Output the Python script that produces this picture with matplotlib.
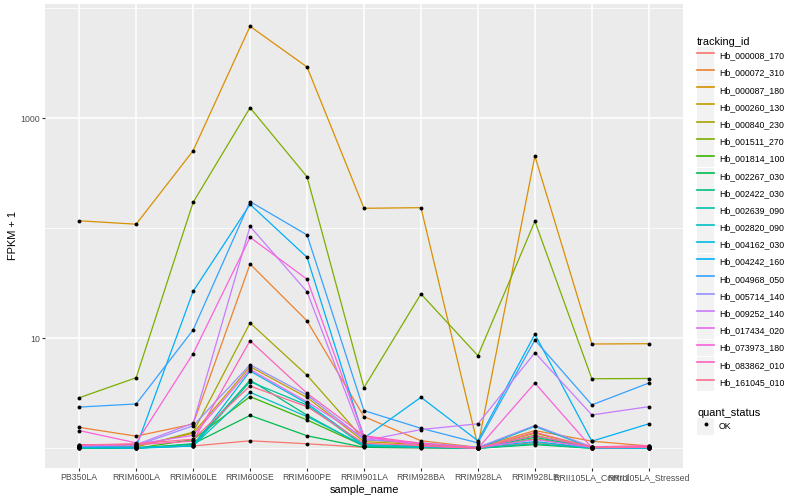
import matplotlib
matplotlib.use('Agg')
import matplotlib.pyplot as plt
from matplotlib.lines import Line2D
from matplotlib.patches import Rectangle
from matplotlib.ticker import FixedLocator, NullFormatter

plt.rcParams['font.family'] = ['Liberation Sans', 'DejaVu Sans']

sample_names = ['PB350LA', 'RRIM600LA', 'RRIM600LE', 'RRIM600SE', 'RRIM600PE',
                'RRIM901LA', 'RRIM928BA', 'RRIM928LA', 'RRIM928LE',
                'RRII105LA_Control', 'RRII105LA_Stressed']

tracking_ids = ['Hb_000008_170', 'Hb_000072_310', 'Hb_000087_180', 'Hb_000260_130',
                'Hb_000840_230', 'Hb_001511_270', 'Hb_001814_100', 'Hb_002267_030',
                'Hb_002422_030', 'Hb_002639_090', 'Hb_002820_090', 'Hb_004162_030',
                'Hb_004242_160', 'Hb_004968_050', 'Hb_005714_140', 'Hb_009252_140',
                'Hb_017434_020', 'Hb_073973_180', 'Hb_083862_010', 'Hb_161045_010']

# FPKM per gene (rows) and sample (columns)
fpkm = [
    [0.02, 0.01, 0.05, 0.17, 0.10, 0.02, 0.01, 0.00, 0.13, 0.01, 0.02],
    [0.55, 0.29, 0.66, 46.3, 13.4, 0.94, 0.17, 0.02, 0.45, 0.16, 0.05],
    [116, 108, 506, 6859, 2925, 151, 153, 0.05, 453, 7.87, 7.93],
    [0.03, 0.04, 0.37, 4.52, 1.90, 0.15, 0.08, 0.01, 0.37, 0.03, 0.01],
    [0.02, 0.03, 0.40, 12.8, 3.61, 0.20, 0.10, 0.00, 0.22, 0.02, 0.02],
    [1.88, 3.38, 171, 1247, 293, 2.56, 24.3, 5.95, 115, 3.29, 3.31],
    [0.01, 0.00, 0.20, 1.95, 0.81, 0.05, 0.03, 0.00, 0.31, 0.01, 0.00],
    [0.00, 0.00, 0.10, 0.99, 0.30, 0.02, 0.01, 0.00, 0.08, 0.00, 0.00],
    [0.01, 0.00, 0.09, 3.17, 1.00, 0.04, 0.02, 0.01, 0.26, 0.01, 0.00],
    [0.00, 0.01, 0.05, 3.03, 1.47, 0.05, 0.02, 0.00, 0.10, 0.00, 0.00],
    [0.02, 0.02, 0.05, 2.23, 0.94, 0.06, 0.03, 0.00, 0.58, 0.01, 0.01],
    [0.03, 0.00, 0.05, 4.04, 1.56, 0.08, 0.05, 0.02, 0.15, 0.01, 0.00],
    [0.04, 0.02, 25.7, 164, 53.5, 0.24, 1.91, 0.17, 9.90, 0.16, 0.67],
    [1.37, 1.53, 10.9, 174, 86.0, 1.20, 0.52, 0.12, 8.65, 1.48, 2.92],
    [0.05, 0.06, 0.60, 4.75, 2.05, 0.20, 0.12, 0.02, 0.61, 0.03, 0.02],
    [0.05, 0.08, 0.69, 103, 25.5, 0.17, 0.48, 0.67, 6.40, 1.01, 1.39],
    [0.06, 0.09, 0.31, 4.22, 1.65, 0.25, 0.10, 0.01, 0.20, 0.02, 0.04],
    [0.45, 0.12, 6.25, 81.8, 33.4, 0.29, 0.05, 0.00, 2.92, 0.01, 0.02],
    [0.08, 0.08, 0.16, 8.50, 2.16, 0.30, 0.11, 0.01, 0.30, 0.03, 0.06],
    [0.07, 0.10, 0.21, 2.68, 1.39, 0.11, 0.06, 0.00, 0.40, 0.02, 0.03],
]

quant_status = ['OK']

# ggplot2 default hue palette for 20 levels
colours = ['#F8766D', '#EA8331', '#D89000', '#C09B00', '#A3A500', '#7CAE00',
           '#39B600', '#00BB4E', '#00BF7D', '#00C1A3', '#00BFC4', '#00BAE0',
           '#00B0F6', '#35A2FF', '#9590FF', '#C77CFF', '#E76BF3', '#FA62DB',
           '#FF62BC', '#FF6C91']

fig = plt.figure(figsize=(8, 5), dpi=100)
ax = fig.add_axes([45 / 800, 32 / 500, 638 / 800, 464 / 500])
ax.set_facecolor('#EBEBEB')

x = list(range(len(sample_names)))
for vals, col in zip(fpkm, colours):
    ax.plot(x, [v + 1 for v in vals], color=col, lw=0.9, zorder=3)
for vals in fpkm:
    ax.plot(x, [v + 1 for v in vals], ls='none', marker='o', ms=2.8, mew=0,
            color='black', zorder=4)

ax.set_yscale('log')
ax.set_ylim(0.662, 10940)
ax.set_xlim(-0.6, len(sample_names) - 0.4)

ax.yaxis.set_major_locator(FixedLocator([10, 1000]))
ax.yaxis.set_minor_locator(FixedLocator([1, 100, 10000]))
ax.yaxis.set_minor_formatter(NullFormatter())
ax.set_yticklabels(['10', '1000'])
ax.set_xticks(x)
ax.set_xticklabels(sample_names)

ax.grid(True, which='major', color='white', lw=1.1, zorder=1)
ax.grid(True, which='minor', axis='y', color='white', lw=0.55, zorder=1)
ax.set_axisbelow(True)
for s in ax.spines.values():
    s.set_visible(False)

ax.tick_params(which='major', length=2, width=0.8, color='#333333', pad=1.5,
               labelsize=6.3, labelcolor='#4D4D4D')
ax.tick_params(which='minor', length=0)

ax.set_xlabel('sample_name', fontsize=7.9, labelpad=2)
ax.set_ylabel('FPKM + 1', fontsize=7.9, labelpad=2)

leg_style = dict(loc='upper left', frameon=False, fontsize=6.3, title_fontsize=7.9,
                 handlelength=1.95, handleheight=2.6, labelspacing=0.03,
                 handletextpad=0.55, borderaxespad=0, borderpad=0, alignment='left')

keys = [(Rectangle((0, 0), 1, 1, facecolor='#F2F2F2', edgecolor='none'),
         Line2D([], [], color=c, lw=1.2)) for c in colours]
fig.legend(keys, tracking_ids, title='tracking_id',
           bbox_to_anchor=(697 / 800, 1 - 37 / 500), **leg_style)

ok_key = [(Rectangle((0, 0), 1, 1, facecolor='#F2F2F2', edgecolor='none'),
           Line2D([], [], ls='none', marker='o', ms=2.8, mew=0, color='black'))]
fig.legend(ok_key, quant_status, title='quant_status',
           bbox_to_anchor=(697 / 800, 1 - 408 / 500), **leg_style)

fig.savefig('out.png', dpi=100)
